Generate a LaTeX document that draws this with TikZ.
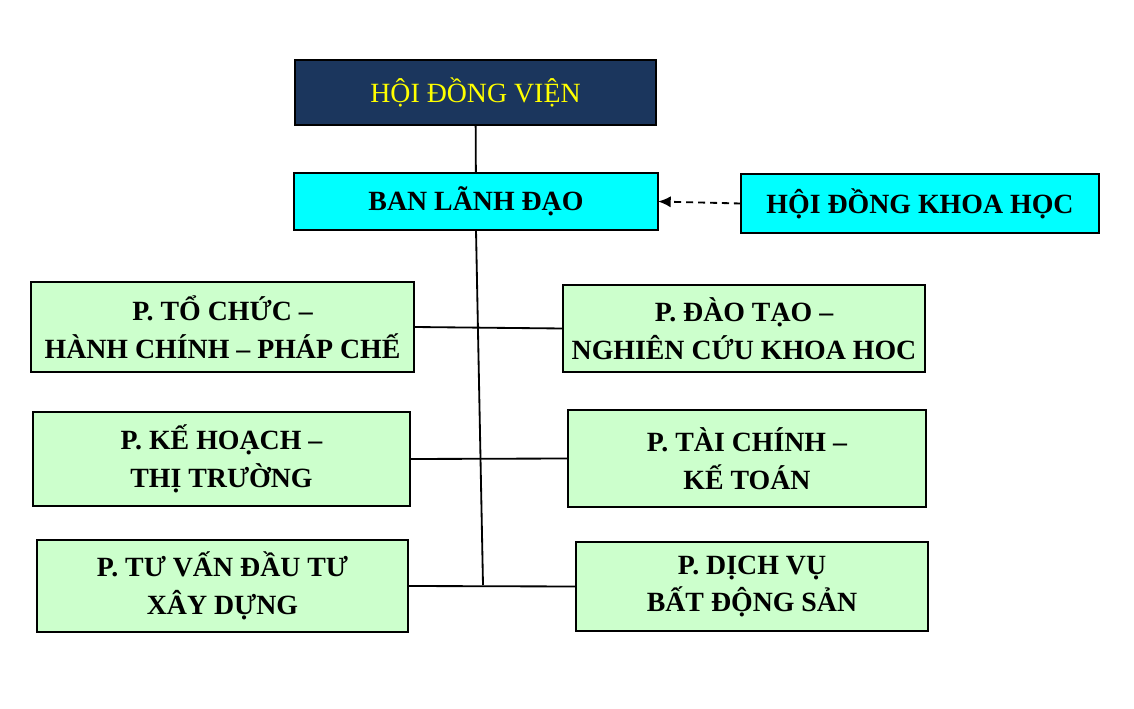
\documentclass[tikz,border=0pt]{standalone}
\usepackage{fontspec}
\setmainfont{Liberation Serif}
\usetikzlibrary{arrows.meta}
\definecolor{hdvnavy}{HTML}{1B365D}
\definecolor{hdvyellow}{HTML}{FFFF00}
\definecolor{bldcyan}{HTML}{00FFFF}
\definecolor{phonggreen}{HTML}{CCFFCC}

\begin{document}
\begin{tikzpicture}[
      x=0.025cm, y=-0.025cm,
      every node/.style={font=\fontsize{19.8}{27}\selectfont\bfseries},
      orgbox/.style={draw, line width=1.5pt, fill=#1, align=center, inner sep=0pt, outer sep=0pt},
      boxsize/.style 2 args={minimum width=#1, minimum height=#2},
      link/.style={line width=1.3pt},
      >={Latex[length=9pt, width=8pt]},
    ]
    \useasboundingbox (0,0) rectangle (1134,709);

    % top of the chart
    \node[orgbox=hdvnavy, boxsize={9.025cm}{1.625cm}, text=hdvyellow,
      font=\fontsize{19.8}{27}\selectfont] (hdv) at (475.5,92.5) {HỘI ĐỒNG VIỆN};
    \node[orgbox=bldcyan, boxsize={9.1cm}{1.425cm}] (bld) at (476,201.5) {BAN LÃNH ĐẠO};
    \node[orgbox=bldcyan, boxsize={8.95cm}{1.475cm}] (hdkh) at (920,203.5) {HỘI ĐỒNG KHOA HỌC};

    % departments
    \node[orgbox=phonggreen, boxsize={9.575cm}{2.25cm}] (tcch) at (222.5,327)
      {P. TỔ CHỨC --\\HÀNH CHÍNH -- PHÁP CHẾ};
    \node[orgbox=phonggreen, boxsize={9.05cm}{2.175cm}] (dtnc) at (744,328.5)
      {P. ĐÀO TẠO --\\NGHIÊN CỨU KHOA HOC};
    \node[orgbox=phonggreen, boxsize={9.425cm}{2.35cm}] (khtt) at (221.5,459)
      {P. KẾ HOẠCH --\\THỊ TRƯỜNG};
    \node[orgbox=phonggreen, boxsize={8.95cm}{2.425cm}] (tckt) at (747,458.5)
      {P. TÀI CHÍNH --\\KẾ TOÁN};
    \node[orgbox=phonggreen, boxsize={9.275cm}{2.3cm}] (tvxd) at (222.5,586)
      {P. TƯ VẤN ĐẦU TƯ\\XÂY DỰNG};
    \node[orgbox=phonggreen, boxsize={8.8cm}{2.225cm}] (dvbds) at (752,586.5)
      {P. DỊCH VỤ\\BẤT ĐỘNG SẢN};

    \coordinate (trunk) at (483,585);

    \draw[link] (hdv) -- (bld);
    \draw[link] (bld.south) -- (trunk);
    \draw[link] (tcch.east) -- (dtnc.west);
    \draw[link] (khtt.east) -- (tckt.west);
    \draw[link] (tvxd.east) -- (dvbds.west);
    \draw[->, line width=1.3pt, dash pattern=on 5pt off 3.5pt] (hdkh.west) -- (bld.east);
  \end{tikzpicture}
\end{document}
